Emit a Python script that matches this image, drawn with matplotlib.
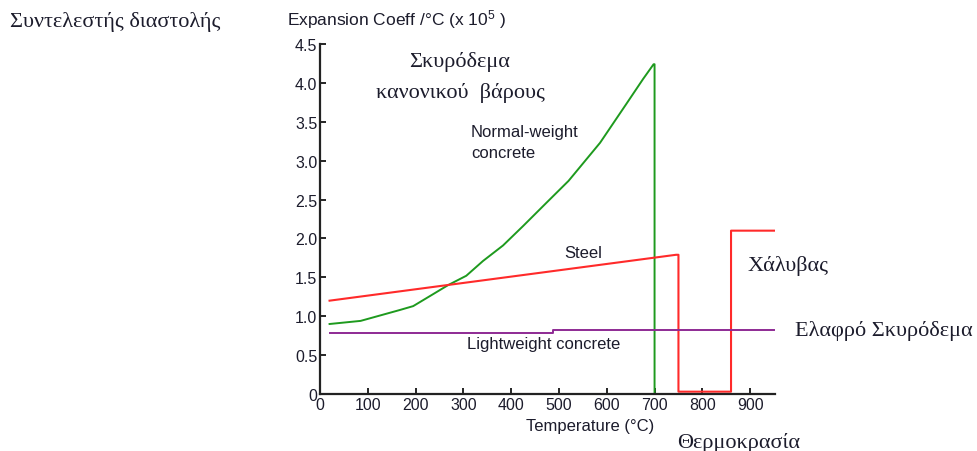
import numpy as np
import matplotlib
matplotlib.use("Agg")
from matplotlib import pyplot as plt

plt.rcParams["mathtext.fontset"] = "custom"
plt.rcParams["mathtext.rm"] = "Liberation Sans"
plt.rcParams["mathtext.default"] = "rm"

# data
normal_T = [20, 85, 167, 195, 237, 268, 306, 341, 383, 425, 474, 520, 586, 641, 676, 698, 700, 700]
normal_a = [0.90, 0.94, 1.08, 1.13, 1.285, 1.40, 1.52, 1.71, 1.91, 2.16, 2.46, 2.74, 3.23, 3.73, 4.05, 4.24, 4.24, 0.0]

steel_T = [20, 745, 750, 750, 860, 860, 950]
steel_a = [1.20, 1.79, 1.79, 0.03, 0.03, 2.10, 2.10]

light_T = [20, 487, 487, 950]
light_a = [0.79, 0.79, 0.82, 0.82]

xticks = [0, 100, 200, 300, 400, 500, 600, 700, 800, 900]
yticks = [0, 0.5, 1.0, 1.5, 2.0, 2.5, 3.0, 3.5, 4.0, 4.5]
ylabels = ["0", "0.5", "1.0", "1.5", "2.0", "2.5", "3.0", "3.5", "4.0", "4.5"]

W, H = 977, 452
sans = ["Liberation Sans", "DejaVu Sans"]
serif = ["Liberation Serif", "DejaVu Serif"]
txt = "#1c1c2c"

fig = plt.figure(figsize=(W / 100, H / 100), dpi=100)
ax = fig.add_axes([320 / W, 1 - 395 / H, 455 / W, 350 / H])

ax.plot(normal_T, normal_a, color="#1e9a1e", lw=1.4)
ax.plot(steel_T, steel_a, color="#ff2a2a", lw=1.5)
ax.plot(light_T, light_a, color="#8e2a94", lw=1.4)

ax.set_xlim(0, 952)
ax.set_ylim(0, 4.5)
ax.set_xticks(xticks)
ax.set_xticklabels([str(t) for t in xticks], fontfamily=sans, fontsize=11.5, color=txt)
ax.set_yticks(yticks)
ax.set_yticklabels(ylabels, fontfamily=sans, fontsize=11.5, color=txt)
ax.tick_params(direction="in", length=4, width=1.2, pad=2)
for s in ["top", "right"]:
    ax.spines[s].set_visible(False)
for s in ["left", "bottom"]:
    ax.spines[s].set_linewidth(1.6)
    ax.spines[s].set_color("#222222")


def put(x, y, s, fam, size, ha="left"):
    fig.text(x / W, 1 - y / H, s, family=fam, fontsize=size, color=txt,
             ha=ha, va="center")


put(10, 22, "Συντελεστής διαστολής", serif, 16)
put(287, 20, r"Expansion Coeff /°C (x 10$^5$ )", sans, 12.5)
put(460, 62, "Σκυρόδεμα", serif, 16, ha="center")
put(460, 93, "κανονικού  βάρους", serif, 16, ha="center")
put(471, 132, "Normal-weight", sans, 12)
put(471, 153, "concrete", sans, 12)
put(564, 253, "Steel", sans, 12)
put(467, 345, "Lightweight concrete", sans, 12)
put(748, 266, "Χάλυβας", serif, 16)
put(795, 331, "Ελαφρό Σκυρόδεμα", serif, 16)
put(590, 427, "Temperature (°C)", sans, 12, ha="center")
put(677, 443, "Θερμοκρασία", serif, 16)

fig.savefig("out.png", dpi=100)
